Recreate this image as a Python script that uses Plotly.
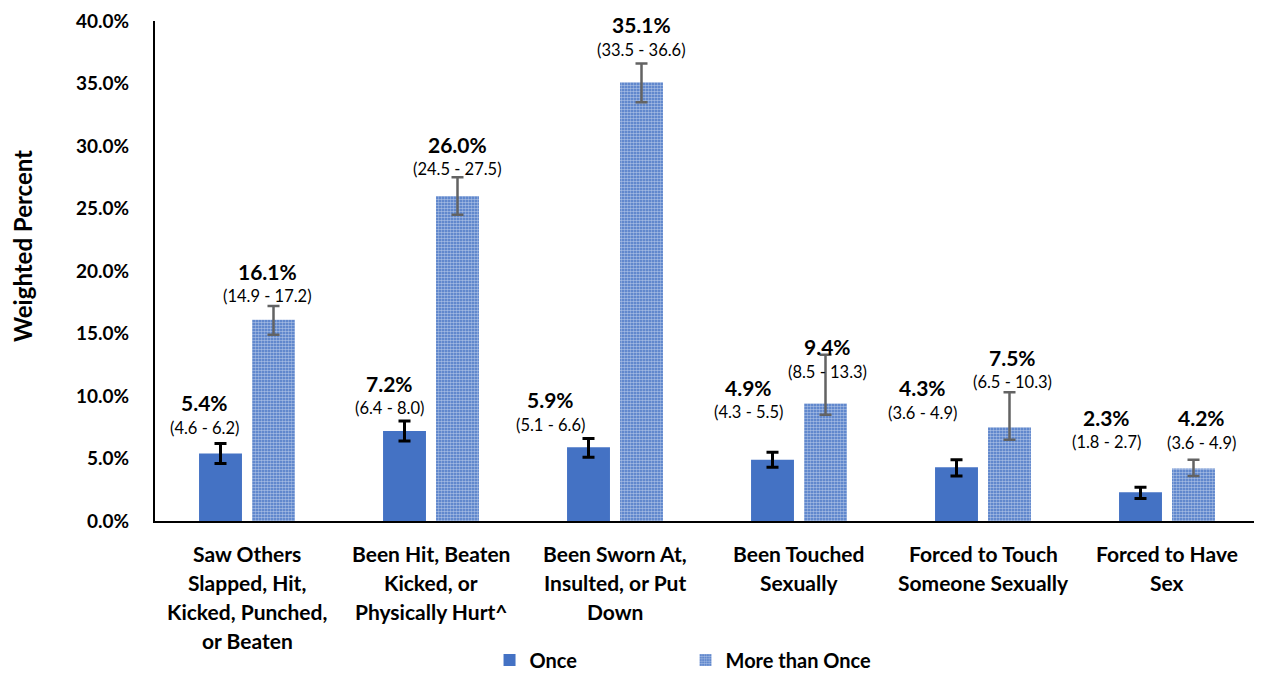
import plotly.graph_objects as go

categories = [
    "Saw Others<br>Slapped, Hit,<br>Kicked, Punched,<br>or Beaten",
    "Been Hit, Beaten<br>Kicked, or<br>Physically Hurt^",
    "Been Sworn At,<br>Insulted, or Put<br>Down",
    "Been Touched<br>Sexually",
    "Forced to Touch<br>Someone Sexually",
    "Forced to Have<br>Sex",
]

once = [5.4, 7.2, 5.9, 4.9, 4.3, 2.3]
once_low = [4.6, 6.4, 5.1, 4.3, 3.6, 1.8]
once_high = [6.2, 8.0, 6.6, 5.5, 4.9, 2.7]

more = [16.1, 26.0, 35.1, 9.4, 7.5, 4.2]
more_low = [14.9, 24.5, 33.5, 8.5, 6.5, 3.6]
more_high = [17.2, 27.5, 36.6, 13.3, 10.3, 4.9]

blue = "#4472C4"
font = "Lato"

# hand-placed label nudges (pixels) as in the original
once_dx = [-16, -15, -38, -24, -34, -34]
once_dy = [16, 13, 14, 40, 47, 45]
more_dx = [-6, 0, 0, 2, 3, 8]
more_dy = [10, 8, 14, -17, 10, 17]

fig = go.Figure()
fig.add_trace(go.Bar(
    x=categories, y=once, name="Once",
    marker=dict(color=blue, line=dict(width=0)),
    error_y=dict(type="data", symmetric=False,
                 array=[h - v for h, v in zip(once_high, once)],
                 arrayminus=[v - l for v, l in zip(once, once_low)],
                 color="black", thickness=3, width=6),
))
fig.add_trace(go.Bar(
    x=categories, y=more, name="More than Once",
    marker=dict(color=blue, line=dict(width=0),
                pattern=dict(shape=".", fillmode="overlay", fgcolor="white",
                             size=3, solidity=0.6)),
    error_y=dict(type="data", symmetric=False,
                 array=[h - v for h, v in zip(more_high, more)],
                 arrayminus=[v - l for v, l in zip(more, more_low)],
                 color="#636363", thickness=2.5, width=6),
))

ann = []
half = 26.5
for i, cat in enumerate(categories):
    for vals, lo, hi, dx, dy, side in [
        (once, once_low, once_high, once_dx, once_dy, -1),
        (more, more_low, more_high, more_dx, more_dy, 1),
    ]:
        xs = side * half + dx[i]
        ann.append(dict(x=cat, y=hi[i], xref="x", yref="y", showarrow=False,
                        text=f"({lo[i]:.1f} - {hi[i]:.1f})", yanchor="middle",
                        xshift=xs, yshift=dy[i],
                        font=dict(family=font, size=16.5, color="black")))
        ann.append(dict(x=cat, y=hi[i], xref="x", yref="y", showarrow=False,
                        text=f"<b>{vals[i]:.1f}%</b>", yanchor="middle",
                        xshift=xs, yshift=dy[i] + 25,
                        font=dict(family=font, size=21, color="black")))
    for j, line in enumerate(cat.split("<br>")):
        ann.append(dict(x=cat, y=0, xref="x", yref="paper", showarrow=False,
                        text=f"<b>{line}</b>", yanchor="middle",
                        yshift=-32 - 29 * j,
                        font=dict(family=font, size=21, color="black")))

# y-axis title, sitting a little above the middle as in the original
ann.append(dict(x=-0.1196, y=0.55, xref="paper", yref="paper",
                showarrow=False, textangle=-90, xanchor="center",
                yanchor="middle", text="<b>Weighted Percent</b>",
                font=dict(family=font, size=24, color="black")))

# page body adds an 8px margin, so the figure is sized to fit the window
fig.update_layout(
    width=1254, height=665,
    margin=dict(l=147, r=3, t=13, b=152, autoexpand=False),
    plot_bgcolor="white", paper_bgcolor="white",
    barmode="group", bargap=0.424, bargroupgap=0.19,
    font=dict(family=font, color="black"),
    annotations=ann,
    showlegend=True,
    legend=dict(orientation="h", xref="container", yref="container",
                x=0.384, xanchor="left", y=0.0195, yanchor="middle",
                font=dict(family=font, size=20, color="black", weight="bold"),
                entrywidth=151, entrywidthmode="pixels"),
)
fig.update_xaxes(showticklabels=False, showline=True, linecolor="black",
                 linewidth=2, ticks="", automargin=False)
fig.update_yaxes(range=[0, 40], dtick=5, ticksuffix="%", tickformat=".1f",
                 showgrid=False, zeroline=False, showline=True,
                 linecolor="black", linewidth=2, automargin=False,
                 ticklabelstandoff=20, ticklabeloverflow="allow",
                 tickfont=dict(family=font, size=19, color="black", weight="bold"))

fig.write_html("out.html")
